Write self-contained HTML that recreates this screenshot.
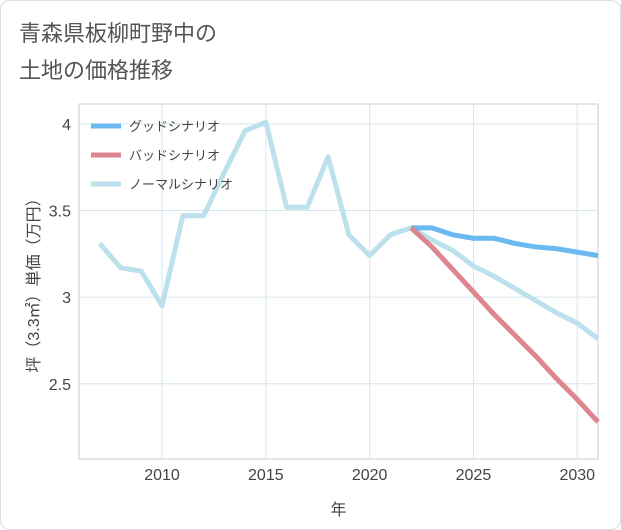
<!DOCTYPE html>
<html><head><meta charset="utf-8"><style>
body{margin:0;background:#fff;font-family:"Liberation Sans","Noto Sans CJK JP",sans-serif}
#wrap{position:relative;width:619px;height:528px;border:1px solid #ddd;border-radius:10px;overflow:hidden;background:#fff}
</style></head><body>
<div id="wrap">
<svg id="c" width="621" height="530"></svg>
</div>
<script>
const years=[2007,2008,2009,2010,2011,2012,2013,2014,2015,2016,2017,2018,2019,2020,2021,2022,2023,2024,2025,2026,2027,2028,2029,2030,2031];
const normalVals=[3.31,3.17,3.15,2.95,3.47,3.47,3.72,3.96,4.01,3.52,3.52,3.81,3.36,3.24,3.36,3.40,3.33,3.27,3.18,3.12,3.05,2.98,2.91,2.85,2.76];
const futureYears=[2022,2023,2024,2025,2026,2027,2028,2029,2030,2031];
const goodVals=[3.40,3.40,3.36,3.34,3.34,3.31,3.29,3.28,3.26,3.24];
const badVals=[3.40,3.29,3.16,3.03,2.90,2.78,2.66,2.53,2.41,2.28];
const xTicks=[2010,2015,2020,2025,2030];
const yTicks=[2.5,3,3.5,4];
const legendLabels=["グッドシナリオ","バッドシナリオ","ノーマルシナリオ"];
const colors=["#6ab9f0","#de868f","#bde1ec"];
const NS="http://www.w3.org/2000/svg";
const svg=document.getElementById('c');
const L=78,R=597,T=103,B=458;
const x=v=>L+(v-2006)/(2031-2006)*(R-L);
const y=v=>T+(4.115-v)/(4.115-2.066)*(B-T);
function mk(t,a,parent){const e=document.createElementNS(NS,t);for(const k in a)e.setAttribute(k,a[k]);(parent||svg).appendChild(e);return e;}
function txt(s,a){const e=mk('text',a);e.textContent=s;return e;}
const title1=txt("青森県板柳町野中の",{x:18,y:40,'font-size':22,fill:'#555'});


const title2=txt("土地の価格推移",{x:18,y:77,'font-size':22,fill:'#555'});


const frame=mk('rect',{x:L,y:T,width:R-L,height:B-T,fill:'none',stroke:'#ccc','stroke-width':1});


xTicks.forEach(t=>{
 const g=mk('line',{x1:x(t),x2:x(t),y1:T,y2:B,stroke:'#d6e6ee','stroke-width':1});
 
 
 const l=txt(t,{x:x(t),y:479,'font-size':16,fill:'#444','text-anchor':'middle'});
 
 
});
yTicks.forEach(t=>{
 const g=mk('line',{x1:L,x2:R,y1:y(t),y2:y(t),stroke:'#d6e6ee','stroke-width':1});
 
 
 const l=txt(t,{x:L-8,y:y(t)+6,'font-size':16,fill:'#444','text-anchor':'end'});
 
 
});
const xt=txt("年",{x:(L+R)/2,y:514,'font-size':16,fill:'#444','text-anchor':'middle'});


const yt=txt("坪（3.3㎡）単価（万円）",{x:0,y:0,'font-size':16,fill:'#444','text-anchor':'middle',transform:`translate(38,${(T+B)/2}) rotate(-90)`});


function line(xs,vs,c,name){
 const p=mk('polyline',{points:xs.map((d,i)=>x(d)+','+y(vs[i])).join(' '),fill:'none',stroke:c,'stroke-width':5,'stroke-linejoin':'round'});
 
 
}
line(years,normalVals,colors[2],'normal-scenario-line');
line(futureYears,goodVals,colors[0],'good-scenario-line');
line(futureYears,badVals,colors[1],'bad-scenario-line');
legendLabels.forEach((s,i)=>{
 const yy=125+i*29;
 const m=mk('line',{x1:90,x2:120,y1:yy,y2:yy,stroke:colors[i],'stroke-width':5});
 
 
 const l=txt(s,{x:128,y:yy+5,'font-size':13,fill:'#444'});
 
 
});
</script>
</body></html>
